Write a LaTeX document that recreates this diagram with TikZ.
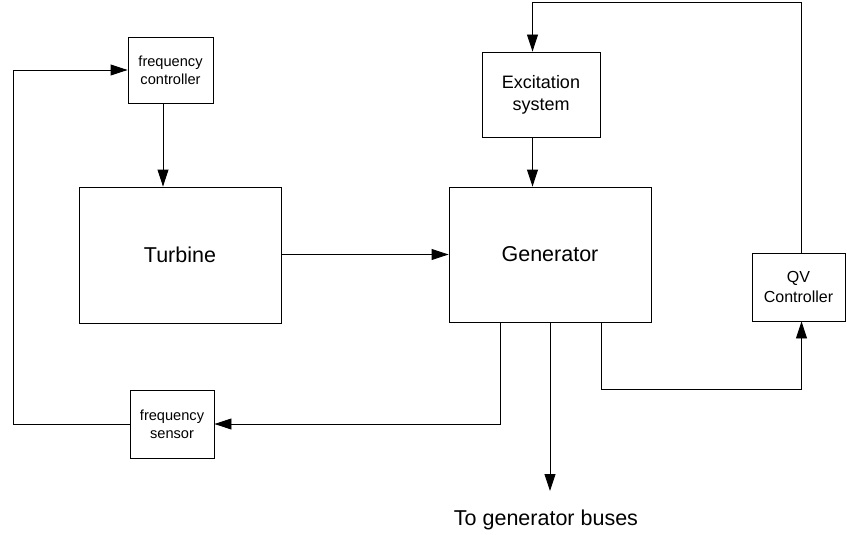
\documentclass[tikz,border=0pt]{standalone}
\usepackage{fontspec}
\setmainfont{Liberation Sans}
\usetikzlibrary{arrows.meta}
\begin{document}
\begin{tikzpicture}[x=1pt,y=-1pt,
  blk/.style={draw, line width=0.9pt, rectangle, inner sep=0pt, align=center},
  arr/.style={line width=0.9pt, -{Triangle[length=17pt,width=11pt]}},
  ln/.style={line width=0.9pt}]
\useasboundingbox (0,0) rectangle (847,535);
% blocks
\node[blk, minimum width=85pt, minimum height=66pt, font=\fontsize{14.6}{18}\selectfont] (fc) at (170.5,70) {frequency\\controller};
\node[blk, minimum width=202pt, minimum height=136pt, font=\fontsize{21.5}{25}\selectfont] (turb) at (180,255) {Turbine};
\node[blk, minimum width=202pt, minimum height=135pt, font=\fontsize{21.5}{25}\selectfont] (gen) at (550,254.5) {Generator};
\node[blk, minimum width=118pt, minimum height=85pt, font=\fontsize{18}{22}\selectfont] (exc) at (541,94.5) {Excitation\\system};
\node[blk, minimum width=93pt, minimum height=68pt, font=\fontsize{16}{20}\selectfont] (qv) at (798.5,287) {QV\\Controller};
\node[blk, minimum width=84pt, minimum height=68pt, font=\fontsize{14.6}{18}\selectfont] (fs) at (172,424) {frequency\\sensor};
\node[font=\fontsize{21.5}{25}\selectfont] (buses) at (546,520) {To generator buses};
% helper coordinates
\coordinate (xfc) at (163,0);
\coordinate (xexc) at (532.5,0);
\coordinate (xqv) at (801.5,0);
\coordinate (xg1) at (500,0);
\coordinate (xg2) at (550,0);
\coordinate (xg3) at (601,0);
\coordinate (lft) at (13,0);
\coordinate (topy) at (0,2);
\coordinate (ys) at (0,424);
\coordinate (yq) at (0,389);
\coordinate (busend) at (550,491);
% connectors
\draw[arr] (fc.south -| xfc) -- (turb.north -| xfc);
\draw[arr] (turb.east |- gen.west) -- (gen.west);
\draw[arr] (qv.north -| xqv) -- (xqv |- topy) -- (xexc |- topy) -- (exc.north -| xexc);
\draw[arr] (exc.south -| xexc) -- (gen.north -| xexc);
\draw[arr] (gen.south -| xg1) -- (xg1 |- ys) -- (fs.east |- ys);
\draw[arr] (fs.west |- ys) -- (lft |- ys) -- (lft |- fc.west) -- (fc.west);
\draw[arr] (gen.south -| xg2) -- (busend);
\draw[arr] (gen.south -| xg3) -- (xg3 |- yq) -- (xqv |- yq) -- (qv.south -| xqv);
\end{tikzpicture}
\end{document}
